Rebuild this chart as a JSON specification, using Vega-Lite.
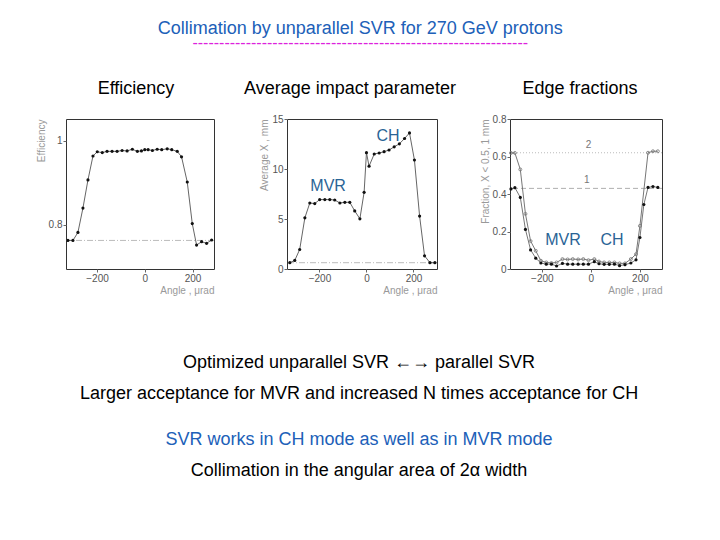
{
  "$schema": "https://vega.github.io/schema/vega-lite/v6.json",
  "background": "white",
  "padding": {"left": 35, "top": 19, "right": 5, "bottom": 5},
  "title": {
    "text": "Collimation by unparallel SVR for 270 GeV protons",
    "subtitle": "---------------------------------------------------------------",
    "anchor": "middle",
    "font": "Liberation Sans",
    "fontSize": 18,
    "fontWeight": "normal",
    "color": "#2060B8",
    "subtitleFont": "Liberation Sans",
    "subtitleFontSize": 16,
    "subtitleColor": "#DD22DD",
    "subtitlePadding": -3,
    "offset": 29,
    "dx": 11
  },
  "datasets": {
    "eff": [
      {"angle": -322, "eff": 0.763}, {"angle": -301, "eff": 0.763}, {"angle": -280, "eff": 0.782},
      {"angle": -259, "eff": 0.840}, {"angle": -238, "eff": 0.907}, {"angle": -217, "eff": 0.964},
      {"angle": -199, "eff": 0.974}, {"angle": -178, "eff": 0.972}, {"angle": -158, "eff": 0.975},
      {"angle": -137, "eff": 0.975}, {"angle": -116, "eff": 0.975}, {"angle": -95, "eff": 0.977},
      {"angle": -74, "eff": 0.976}, {"angle": -52, "eff": 0.980}, {"angle": -31, "eff": 0.975},
      {"angle": -14, "eff": 0.976}, {"angle": 0, "eff": 0.979}, {"angle": 14, "eff": 0.979},
      {"angle": 32, "eff": 0.977}, {"angle": 52, "eff": 0.980}, {"angle": 71, "eff": 0.979},
      {"angle": 94, "eff": 0.981}, {"angle": 113, "eff": 0.979}, {"angle": 136, "eff": 0.975},
      {"angle": 154, "eff": 0.962}, {"angle": 178, "eff": 0.902}, {"angle": 199, "eff": 0.803},
      {"angle": 217, "eff": 0.752}, {"angle": 238, "eff": 0.760}, {"angle": 259, "eff": 0.756},
      {"angle": 280, "eff": 0.764}
    ],
    "avg": [
      {"angle": -326, "x": 0.63}, {"angle": -305, "x": 0.86}, {"angle": -284, "x": 1.95},
      {"angle": -262, "x": 5.12}, {"angle": -241, "x": 6.6}, {"angle": -220, "x": 6.54},
      {"angle": -199, "x": 6.94}, {"angle": -177, "x": 6.94}, {"angle": -156, "x": 6.94},
      {"angle": -135, "x": 6.9}, {"angle": -113, "x": 6.6}, {"angle": -92, "x": 6.67},
      {"angle": -71, "x": 6.67}, {"angle": -50, "x": 5.81}, {"angle": -28, "x": 5.02},
      {"angle": -10, "x": 7.67}, {"angle": 0, "x": 11.63}, {"angle": 11, "x": 10.28},
      {"angle": 33, "x": 11.5}, {"angle": 54, "x": 11.6}, {"angle": 75, "x": 11.73},
      {"angle": 96, "x": 11.9}, {"angle": 118, "x": 12.22}, {"angle": 140, "x": 12.52},
      {"angle": 162, "x": 13.05}, {"angle": 183, "x": 13.61}, {"angle": 204, "x": 10.9},
      {"angle": 226, "x": 5.29}, {"angle": 247, "x": 1.32}, {"angle": 270, "x": 0.63},
      {"angle": 291, "x": 0.63}
    ],
    "frac": [
      {"angle": -326, "frac": 0.427, "series": "1"}, {"angle": -310, "frac": 0.434, "series": "1"},
      {"angle": -288, "frac": 0.382, "series": "1"}, {"angle": -267, "frac": 0.211, "series": "1"},
      {"angle": -246, "frac": 0.102, "series": "1"}, {"angle": -225, "frac": 0.058, "series": "1"},
      {"angle": -204, "frac": 0.032, "series": "1"}, {"angle": -182, "frac": 0.026, "series": "1"},
      {"angle": -161, "frac": 0.026, "series": "1"}, {"angle": -140, "frac": 0.016, "series": "1"},
      {"angle": -116, "frac": 0.030, "series": "1"}, {"angle": -95, "frac": 0.026, "series": "1"},
      {"angle": -74, "frac": 0.026, "series": "1"}, {"angle": -52, "frac": 0.026, "series": "1"},
      {"angle": -31, "frac": 0.026, "series": "1"}, {"angle": -10, "frac": 0.026, "series": "1"},
      {"angle": 14, "frac": 0.039, "series": "1"}, {"angle": 33, "frac": 0.028, "series": "1"},
      {"angle": 54, "frac": 0.025, "series": "1"}, {"angle": 75, "frac": 0.025, "series": "1"},
      {"angle": 96, "frac": 0.026, "series": "1"}, {"angle": 117, "frac": 0.018, "series": "1"},
      {"angle": 139, "frac": 0.023, "series": "1"}, {"angle": 163, "frac": 0.032, "series": "1"},
      {"angle": 184, "frac": 0.049, "series": "1"}, {"angle": 200, "frac": 0.168, "series": "1"},
      {"angle": 216, "frac": 0.344, "series": "1"}, {"angle": 233, "frac": 0.435, "series": "1"},
      {"angle": 253, "frac": 0.44, "series": "1"}, {"angle": 273, "frac": 0.435, "series": "1"},
      {"angle": -326, "frac": 0.619, "series": "2"}, {"angle": -310, "frac": 0.619, "series": "2"},
      {"angle": -288, "frac": 0.531, "series": "2"}, {"angle": -267, "frac": 0.294, "series": "2"},
      {"angle": -246, "frac": 0.149, "series": "2"}, {"angle": -225, "frac": 0.097, "series": "2"},
      {"angle": -204, "frac": 0.044, "series": "2"}, {"angle": -182, "frac": 0.035, "series": "2"},
      {"angle": -161, "frac": 0.032, "series": "2"}, {"angle": -140, "frac": 0.035, "series": "2"},
      {"angle": -116, "frac": 0.053, "series": "2"}, {"angle": -95, "frac": 0.051, "series": "2"},
      {"angle": -74, "frac": 0.053, "series": "2"}, {"angle": -52, "frac": 0.051, "series": "2"},
      {"angle": -31, "frac": 0.053, "series": "2"}, {"angle": -10, "frac": 0.047, "series": "2"},
      {"angle": 14, "frac": 0.053, "series": "2"}, {"angle": 33, "frac": 0.040, "series": "2"},
      {"angle": 54, "frac": 0.035, "series": "2"}, {"angle": 75, "frac": 0.035, "series": "2"},
      {"angle": 96, "frac": 0.035, "series": "2"}, {"angle": 117, "frac": 0.030, "series": "2"},
      {"angle": 139, "frac": 0.030, "series": "2"}, {"angle": 163, "frac": 0.053, "series": "2"},
      {"angle": 184, "frac": 0.079, "series": "2"}, {"angle": 200, "frac": 0.23, "series": "2"},
      {"angle": 233, "frac": 0.62, "series": "2"}, {"angle": 253, "frac": 0.628, "series": "2"},
      {"angle": 273, "frac": 0.628, "series": "2"}
    ],
    "lines": [
      {"text": "Optimized unparallel SVR ←→ parallel SVR", "line": 1, "kind": "plain"},
      {"text": "Larger acceptance for MVR and increased N times acceptance for CH", "line": 2, "kind": "plain"},
      {"text": "SVR works in CH mode as well as in MVR mode", "line": 3.5, "kind": "blue"},
      {"text": "Collimation in the angular area of 2α width", "line": 4.5, "kind": "plain"}
    ]
  },
  "vconcat": [
    {
      "hconcat": [
        {
          "width": 148,
          "height": 150,
          "title": {"text": "Efficiency", "offset": 21, "dx": -4},
          "layer": [
            {
              "data": {"values": [{"eff": 0.763}]},
              "mark": {"type": "rule", "color": "#aaaaaa", "strokeWidth": 0.8, "strokeDash": [6, 2, 1, 2]},
              "encoding": {
                "y": {"field": "eff", "type": "quantitative"}
              }
            },
            {
              "data": {"name": "eff"},
              "mark": {"type": "line", "color": "#666666", "strokeWidth": 1},
              "encoding": {
                "x": {"field": "angle", "type": "quantitative", "scale": {"domain": [-330, 290], "nice": false},
                      "axis": {"title": "Angle , μrad", "titleAnchor": "end", "values": [-200, 0, 200]}},
                "y": {"field": "eff", "type": "quantitative", "scale": {"domain": [0.695, 1.052], "zero": false, "nice": false},
                      "axis": {"title": "Efficiency", "titleAnchor": "end", "values": [0.8, 1], "format": "~g"}}
              }
            },
            {
              "data": {"name": "eff"},
              "mark": {"type": "point", "filled": true, "color": "#111111", "size": 10, "opacity": 1},
              "encoding": {
                "x": {"field": "angle", "type": "quantitative"},
                "y": {"field": "eff", "type": "quantitative"}
              }
            }
          ]
        },
        {
          "width": 150,
          "height": 150,
          "title": {"text": "Average impact parameter", "offset": 16, "dx": -12},
          "layer": [
            {
              "data": {"values": [{"x": 0.63}]},
              "mark": {"type": "rule", "color": "#aaaaaa", "strokeWidth": 0.8, "strokeDash": [6, 2, 1, 2]},
              "encoding": {
                "y": {"field": "x", "type": "quantitative"}
              }
            },
            {
              "data": {"name": "avg"},
              "mark": {"type": "line", "color": "#666666", "strokeWidth": 1},
              "encoding": {
                "x": {"field": "angle", "type": "quantitative", "scale": {"domain": [-338, 300], "nice": false},
                      "axis": {"title": "Angle , μrad", "titleAnchor": "end", "values": [-200, 0, 200]}},
                "y": {"field": "x", "type": "quantitative", "scale": {"domain": [0, 15], "nice": false},
                      "axis": {"title": "Average X , mm", "titleAnchor": "end", "values": [0, 5, 10, 15]}}
              }
            },
            {
              "data": {"name": "avg"},
              "mark": {"type": "point", "filled": true, "color": "#111111", "size": 10, "opacity": 1},
              "encoding": {
                "x": {"field": "angle", "type": "quantitative"},
                "y": {"field": "x", "type": "quantitative"}
              }
            },
            {
              "data": {"values": [{"angle": -163, "x": 8.3, "label": "MVR"}, {"angle": 92, "x": 13.3, "label": "CH"}]},
              "mark": {"type": "text", "font": "Liberation Sans", "fontSize": 16, "color": "#2A6496", "align": "center", "baseline": "middle"},
              "encoding": {
                "x": {"field": "angle", "type": "quantitative"},
                "y": {"field": "x", "type": "quantitative"},
                "text": {"field": "label"}
              }
            }
          ]
        },
        {
          "width": 152,
          "height": 150,
          "title": {"text": "Edge fractions", "offset": 16, "dx": -6},
          "layer": [
            {
              "data": {"values": [{"frac": 0.62}]},
              "mark": {"type": "rule", "color": "#aaaaaa", "strokeWidth": 0.8, "strokeDash": [1, 2]},
              "encoding": {
                "y": {"field": "frac", "type": "quantitative"}
              }
            },
            {
              "data": {"values": [{"frac": 0.43}]},
              "mark": {"type": "rule", "color": "#999999", "strokeWidth": 0.8, "strokeDash": [5, 3]},
              "encoding": {
                "y": {"field": "frac", "type": "quantitative"}
              }
            },
            {
              "data": {"name": "frac"},
              "mark": {"type": "line", "color": "#777777", "strokeWidth": 1},
              "encoding": {
                "x": {"field": "angle", "type": "quantitative", "scale": {"domain": [-330, 290], "nice": false},
                      "axis": {"title": "Angle , μrad", "titleAnchor": "end", "values": [-200, 0, 200]}},
                "y": {"field": "frac", "type": "quantitative", "scale": {"domain": [0, 0.8], "nice": false},
                      "axis": {"title": "Fraction, X < 0.5, 1 mm", "titleAnchor": "end", "values": [0, 0.2, 0.4, 0.6, 0.8], "tickCount": 10, "format": "~g", "labelOverlap": false, "labelSeparation": 0}},
                "detail": {"field": "series"}
              }
            },
            {
              "data": {"name": "frac"},
              "transform": [{"filter": "datum.series == '2'"}],
              "mark": {"type": "point", "filled": false, "color": "#777777", "size": 9, "strokeWidth": 0.8, "opacity": 1},
              "encoding": {
                "x": {"field": "angle", "type": "quantitative"},
                "y": {"field": "frac", "type": "quantitative"}
              }
            },
            {
              "data": {"name": "frac"},
              "transform": [{"filter": "datum.series == '1'"}],
              "mark": {"type": "point", "filled": true, "color": "#111111", "size": 10, "opacity": 1},
              "encoding": {
                "x": {"field": "angle", "type": "quantitative"},
                "y": {"field": "frac", "type": "quantitative"}
              }
            },
            {
              "data": {"values": [{"angle": -10, "frac": 0.66, "label": "2"}, {"angle": -17, "frac": 0.475, "label": "1"}]},
              "mark": {"type": "text", "font": "Liberation Sans", "fontSize": 10, "color": "#777777", "align": "center", "baseline": "middle"},
              "encoding": {
                "x": {"field": "angle", "type": "quantitative"},
                "y": {"field": "frac", "type": "quantitative"},
                "text": {"field": "label"}
              }
            },
            {
              "data": {"values": [{"angle": -114, "frac": 0.155, "label": "MVR"}, {"angle": 86, "frac": 0.155, "label": "CH"}]},
              "mark": {"type": "text", "font": "Liberation Sans", "fontSize": 16, "color": "#2A6496", "align": "center", "baseline": "middle"},
              "encoding": {
                "x": {"field": "angle", "type": "quantitative"},
                "y": {"field": "frac", "type": "quantitative"},
                "text": {"field": "label"}
              }
            }
          ]
        }
      ],
      "spacing": 73,
      "bounds": "flush"
    },
    {
      "width": 586,
      "height": 170,
      "data": {"name": "lines"},
      "view": {"stroke": null},
      "mark": {"type": "text", "font": "Liberation Sans", "fontSize": 18, "align": "center", "baseline": "middle"},
      "encoding": {
        "y": {"field": "line", "type": "quantitative", "scale": {"domain": [0, 5.5], "reverse": true, "nice": false, "zero": false}, "axis": null},
        "text": {"field": "text"},
        "color": {"field": "kind", "type": "nominal", "scale": {"domain": ["plain", "blue"], "range": ["#000000", "#2060B8"]}, "legend": null}
      }
    }
  ],
  "spacing": 36,
  "config": {
    "font": "Liberation Sans",
    "view": {"stroke": "#333333", "strokeWidth": 1},
    "axis": {
      "grid": false,
      "domain": false,
      "labelFont": "Liberation Sans",
      "labelFontSize": 10,
      "labelColor": "#555555",
      "labelPadding": 1,
      "labelOverlap": false,
      "tickColor": "#666666",
      "tickSize": 3,
      "titleFont": "Liberation Sans",
      "titleFontSize": 10,
      "titleFontWeight": "normal",
      "titleColor": "#999999",
      "titlePadding": 2
    },
    "title": {"font": "Liberation Sans", "fontSize": 18, "fontWeight": "normal", "color": "#000000"}
  }
}
